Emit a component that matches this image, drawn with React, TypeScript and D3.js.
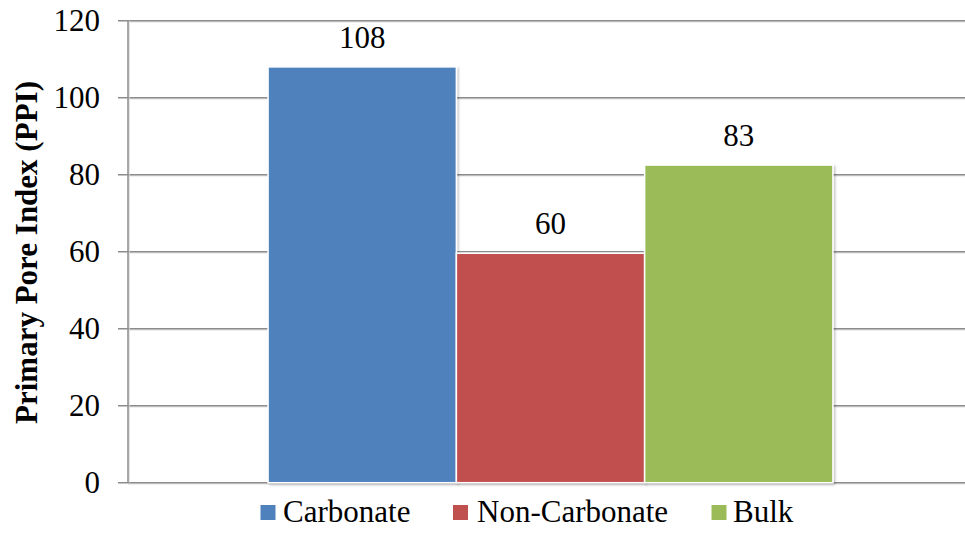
import React from "react";
import * as d3 from "d3";

const seriesNames = ["Carbonate", "Non-Carbonate", "Bulk"];
const seriesValues = [108, 59.6, 82.5];
const seriesLabels = ["108", "60", "83"];
const seriesColors = ["#4F81BD", "#C0504D", "#9BBB59"];
const yTicks = [0, 20, 40, 60, 80, 100, 120];

const W = 965;
const H = 533;
const plotLeft = 128;
const plotRight = 973;
const plotTop = 20.7;
const plotBottom = 482.7;
const FS = 31;
const fontStyle = { fontFamily: "Liberation Serif, Times New Roman, Times, DejaVu Serif, serif" };

export default function App() {
  const y = d3.scaleLinear().domain([0, 120]).range([plotBottom, plotTop]);
  const xCat = d3.scaleBand().domain(["all"]).range([plotLeft, plotRight]).paddingInner(0).paddingOuter(0.248);
  const x = d3
    .scaleBand()
    .domain(seriesNames)
    .range([xCat("all")!, xCat("all")! + xCat.bandwidth()])
    .padding(0);

  const legendItems = [
    { name: seriesNames[0], sx: 260.5, tx: 283 },
    { name: seriesNames[1], sx: 453, tx: 477 },
    { name: seriesNames[2], sx: 711.5, tx: 733 },
  ];

  return (
    <svg width={W} height={H} style={{ position: "absolute", left: 0, top: 0, background: "#fff" }}>
      <defs>
        <filter id="sh" x="-5%" y="-5%" width="110%" height="110%">
          <feDropShadow dx="1.5" dy="1.5" stdDeviation="1.2" floodColor="#000" floodOpacity="0.25" />
        </filter>
      </defs>
      {yTicks.map((t) => (
        <g key={t}>
          <line x1={plotLeft} x2={plotRight} y1={y(t) + 1.2} y2={y(t) + 1.2} stroke="#d9d9d9" strokeWidth={1} />
          <line x1={118} x2={plotRight} y1={y(t)} y2={y(t)} stroke="#8c8c8c" strokeWidth={1.5} />
          <text x={100} y={y(t)} textAnchor="end" dominantBaseline="central" style={fontStyle} fontSize={FS} fill="#000">
            {t}
          </text>
        </g>
      ))}
      <line x1={plotLeft + 1.2} x2={plotLeft + 1.2} y1={plotTop} y2={plotBottom} stroke="#d9d9d9" strokeWidth={1} />
      <line x1={plotLeft} x2={plotLeft} y1={plotTop} y2={plotBottom} stroke="#8c8c8c" strokeWidth={1.5} />
      {seriesNames.map((s, i) => (
        <rect
          key={s}
          x={x(s)!}
          y={y(seriesValues[i])}
          width={x.bandwidth()}
          height={plotBottom - y(seriesValues[i])}
          fill={seriesColors[i]}
          stroke="#fff"
          strokeWidth={1.5}
          filter="url(#sh)"
        />
      ))}
      {seriesNames.map((s, i) => (
        <text
          key={s}
          x={x(s)! + x.bandwidth() / 2}
          y={y(seriesValues[i]) - 19}
          textAnchor="middle"
          style={fontStyle}
          fontSize={FS}
          fill="#000"
        >
          {seriesLabels[i]}
        </text>
      ))}
      <text
        transform={`translate(37, 252.5) rotate(-90)`}
        textAnchor="middle"
        style={fontStyle}
        fontSize={FS}
        fontWeight="bold"
        fill="#000"
      >
        Primary Pore Index (PPI)
      </text>
      {legendItems.map((it, i) => (
        <g key={it.name}>
          <rect x={it.sx} y={505} width={15} height={15} fill={seriesColors[i]} />
          <text x={it.tx} y={521.7} style={fontStyle} fontSize={FS} fill="#000">
            {it.name}
          </text>
        </g>
      ))}
    </svg>
  );
}
